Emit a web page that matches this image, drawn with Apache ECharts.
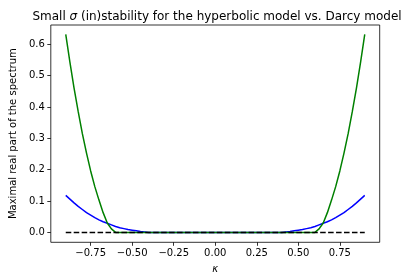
<!DOCTYPE html>
<html>
<head>
<meta charset="utf-8">
<script src="https://cdn.jsdelivr.net/npm/echarts@6/dist/echarts.min.js"></script>
<style>html,body{margin:0;padding:0;background:#fff;}#c{width:404px;height:280px;}</style>
</head>
<body>
<div id="c"></div>
<script>
// kappa sample points (both curves are zero on [-0.4, 0.4])
const kappa = [-0.9,-0.875,-0.85,-0.825,-0.8,-0.775,-0.75,-0.725,-0.7,-0.675,-0.65,-0.625,-0.6,-0.575,-0.55,-0.525,-0.5,-0.475,-0.45,-0.425,-0.4,
               0.4,0.425,0.45,0.475,0.5,0.525,0.55,0.575,0.6,0.625,0.65,0.675,0.7,0.725,0.75,0.775,0.8,0.825,0.85,0.875,0.9];
const hyperbolic = [0.118,0.106,0.094,0.083,0.073,0.063,0.055,0.047,0.040,0.034,0.029,0.024,0.019,0.015,0.012,0.009,0.007,0.005,0.003,0.0015,0,
                    0,0.0015,0.003,0.005,0.007,0.009,0.012,0.015,0.019,0.024,0.029,0.034,0.040,0.047,0.055,0.063,0.073,0.083,0.094,0.106,0.118];
const darcy = [0.632,0.543,0.46,0.385,0.315,0.253,0.196,0.146,0.103,0.063,0.030,0.011,0,0,0,0,0,0,0,0,0,
               0,0,0,0,0,0,0,0,0,0.011,0.030,0.063,0.103,0.146,0.196,0.253,0.315,0.385,0.46,0.543,0.632];
const refKappa = [-0.9, 0.9];
const refValue = [0, 0];
const xTicks = [-0.75,-0.5,-0.25,0,0.25,0.5,0.75];
const yTicks = [0,0.1,0.2,0.3,0.4,0.5,0.6];

const pairs = (xs, ys) => xs.map((x, i) => [x, ys[i]]);
const font = 'DejaVu Sans';
const chart = echarts.init(document.getElementById('c'), null, {renderer: 'canvas'});
chart.setOption({
  animation: false,
  backgroundColor: '#fff',
  textStyle: { fontFamily: font },
  title: {
    text: '{n|Small }{i|σ}{n| (in)stability for the hyperbolic model vs. Darcy model}',
    left: 212, top: 6, textAlign: 'center',
    textStyle: {
      fontFamily: font, fontSize: 12, fontWeight: 'normal', color: '#000',
      rich: {
        n: { fontFamily: font, fontSize: 12, color: '#000' },
        i: { fontFamily: font, fontSize: 12, fontStyle: 'italic', color: '#000' }
      }
    }
  },
  grid: { left: 44.3, right: 24.3, top: 25, bottom: 37.7, show: true, borderColor: '#000', borderWidth: 0.8, backgroundColor: 'transparent' },
  xAxis: {
    type: 'value', min: -0.99, max: 0.99,
    name: 'κ', nameLocation: 'middle', nameGap: 22,
    nameTextStyle: { fontFamily: font, fontSize: 10, fontStyle: 'italic', color: '#000' },
    axisLine: { show: false, onZero: false },
    splitLine: { show: false },
    axisTick: { show: true, customValues: xTicks, length: 3.5, lineStyle: { color: '#000', width: 0.8 } },
    axisLabel: { customValues: xTicks, margin: 6, fontFamily: font, fontSize: 10, color: '#000',
      formatter: v => (v < 0 ? '\u2212' : '') + Math.abs(v).toFixed(2) }
  },
  yAxis: {
    type: 'value', min: -0.0316, max: 0.6616,
    name: 'Maximal real part of the spectrum', nameLocation: 'middle', nameGap: 32,
    nameTextStyle: { fontFamily: font, fontSize: 10, color: '#000' },
    axisLine: { show: false, onZero: false },
    splitLine: { show: false },
    axisTick: { show: true, customValues: yTicks, length: 3.5, lineStyle: { color: '#000', width: 0.8 } },
    axisLabel: { customValues: yTicks, margin: 6, fontFamily: font, fontSize: 10, color: '#000',
      formatter: v => v.toFixed(1) }
  },
  series: [
    { type: 'line', data: pairs(kappa, hyperbolic), showSymbol: false, symbol: 'none',
      lineStyle: { color: '#0000ff', width: 1.5 }, z: 2 },
    { type: 'line', data: pairs(kappa, darcy), showSymbol: false, symbol: 'none',
      lineStyle: { color: '#008000', width: 1.5 }, z: 3 },
    { type: 'line', data: pairs(refKappa, refValue), showSymbol: false, symbol: 'none',
      lineStyle: { color: '#000', width: 1.5, type: [5.55, 2.4] }, z: 4 }
  ]
});
</script>
</body>
</html>
